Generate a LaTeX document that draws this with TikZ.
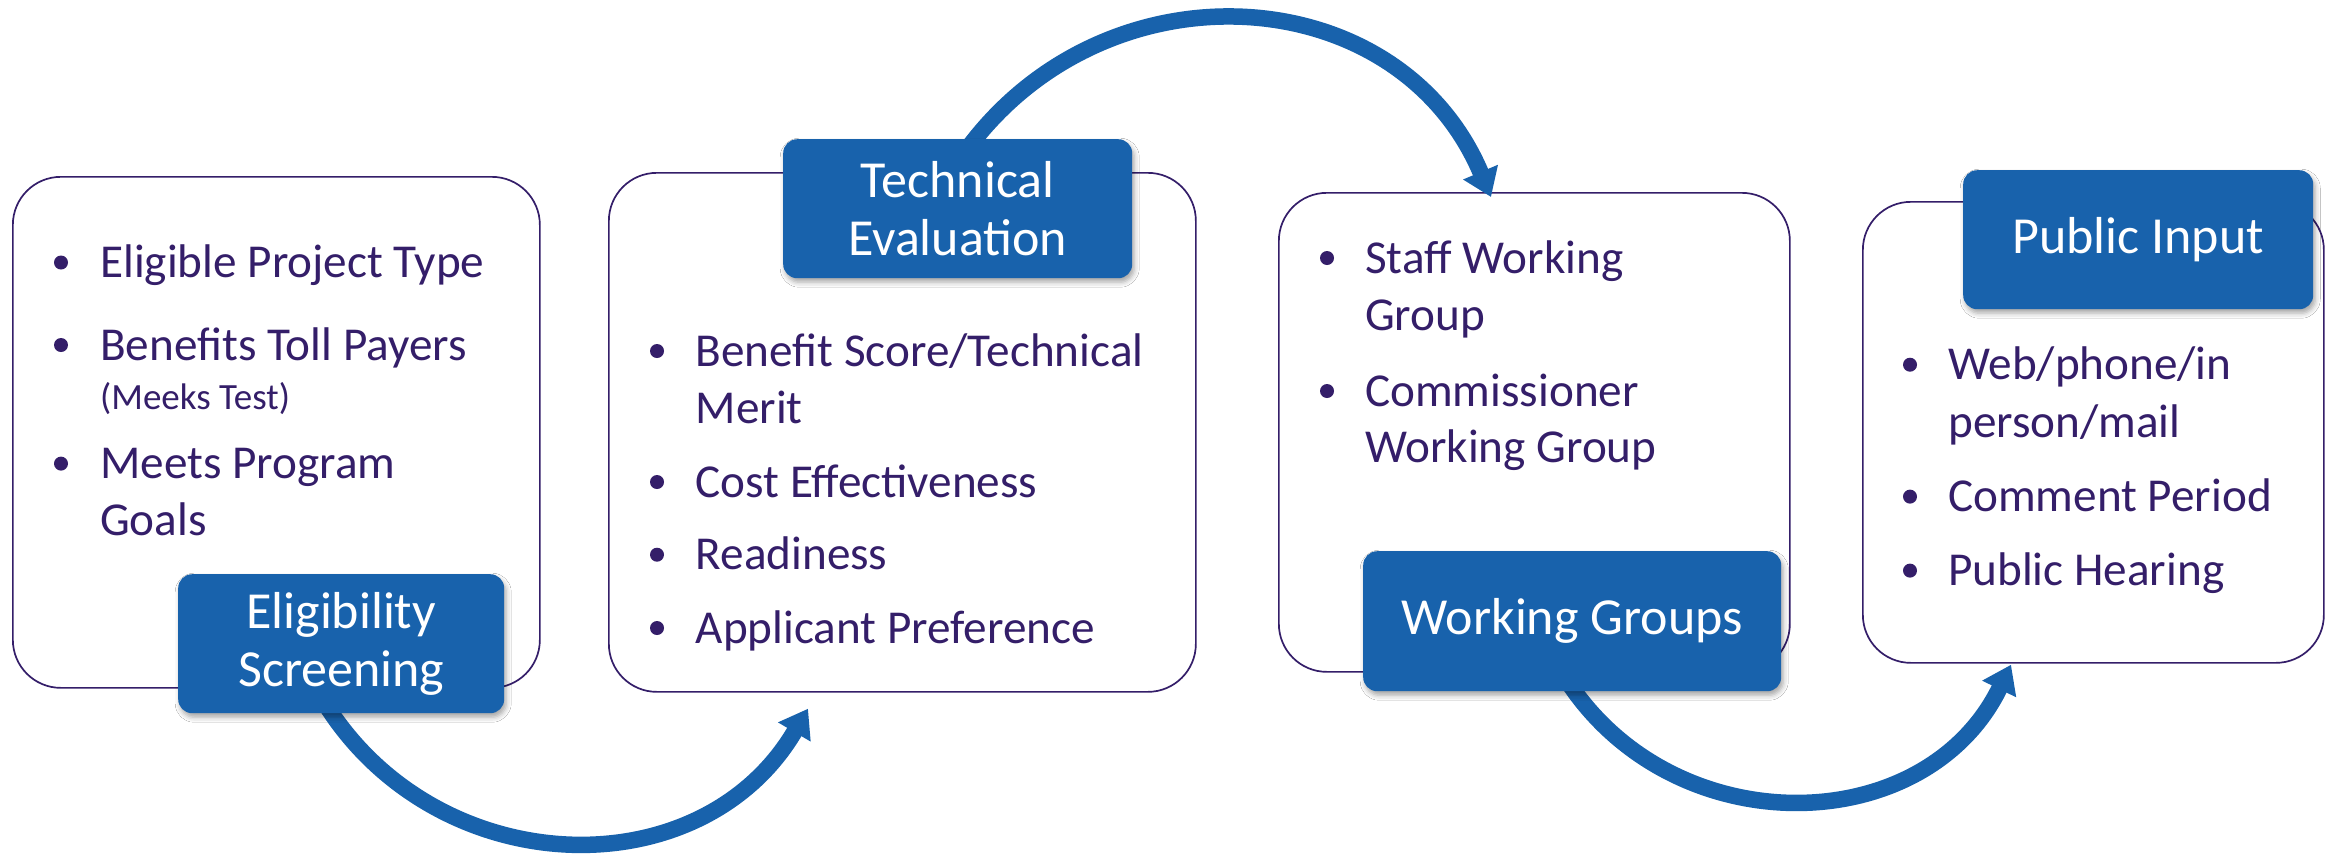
\documentclass[tikz,border=0pt]{standalone}
\usepackage{fontspec}
\setmainfont{Carlito}
\usetikzlibrary{arrows.meta,shadows.blur,calc}
\definecolor{lblblue}{RGB}{24,98,172}
\definecolor{ink}{RGB}{52,30,105}
\begin{document}
\begin{tikzpicture}[x=1pt,y=-1pt,
  panel/.style={draw=ink, line width=1.7pt, rounded corners=48pt, fill=white, anchor=north west, inner sep=0pt},
  lbl/.style={fill=lblblue, rounded corners=14pt, text=white, align=center, anchor=north west, inner sep=0pt,
    font=\fontsize{52}{58}\selectfont,
    blur shadow={shadow xshift=2pt, shadow yshift=-4pt, shadow blur radius=5pt, shadow opacity=35}},
  itm/.style={anchor=base west, inner sep=0pt, text=ink, font=\fontsize{47.2}{57.5}\selectfont},
  small/.style={itm, font=\fontsize{37}{44}\selectfont},
  bul/.style={circle, fill=ink, inner sep=0pt, minimum size=14pt},
  flow/.style={draw=lblblue, line width=16.5pt, -{Triangle[length=27pt,width=36pt]}}
]
\fill[white] (0,0) rectangle (2330,860);
\useasboundingbox (0,0) rectangle (2330,860);

% panels
\node[panel, minimum width=527pt, minimum height=511pt] (box1) at (12,176) {};
\node[panel, minimum width=587pt, minimum height=519pt] (box2) at (608,172) {};
\node[panel, minimum width=511pt, minimum height=479pt] (box3) at (1278,192) {};
\node[panel, minimum width=461pt, minimum height=461pt] (box4) at (1862,201) {};

% box 1 items
\node[bul] (b11) at (61,262.5) {};
\node[itm] (t11) at (100,277.5) {Eligible Project Type};
\node[bul] (b12) at (61,345) {};
\node[itm] (t12) at (100,360) {Benefits Toll Payers};
\node[small] (t12b) at (100,409) {(Meeks Test)};
\node[bul] (b13) at (61,463.6) {};
\node[itm] (t13) at (100,478.6) {Meets Program};
\node[itm] (t13b) at (100,535.7) {Goals};

% box 2 items
\node[bul] (b21) at (657,351) {};
\node[itm] (t21) at (695.5,366) {Benefit Score/Technical};
\node[itm] (t21b) at (695.5,423.5) {Merit};
\node[bul] (b22) at (657,482) {};
\node[itm] (t22) at (695.5,497) {Cost Effectiveness};
\node[bul] (b23) at (657,554.7) {};
\node[itm] (t23) at (695.5,569.7) {Readiness};
\node[bul] (b24) at (657,628) {};
\node[itm] (t24) at (695.5,643) {Applicant Preference};

% box 3 items
\node[bul] (b31) at (1327,258) {};
\node[itm] (t31) at (1365,273) {Staff Working};
\node[itm] (t31b) at (1365,330) {Group};
\node[bul] (b32) at (1327,391) {};
\node[itm] (t32) at (1365,406) {Commissioner};
\node[itm] (t32b) at (1365,462) {Working Group};

% box 4 items
\node[bul] (b41) at (1910,364.7) {};
\node[itm] (t41) at (1948,379.7) {Web/phone/in};
\node[itm] (t41b) at (1948,437.5) {person/mail};
\node[bul] (b42) at (1910,496.6) {};
\node[itm] (t42) at (1948,511.6) {Comment Period};
\node[bul] (b43) at (1910,570.6) {};
\node[itm] (t43) at (1948,585.6) {Public Hearing};

% label coordinates (used for arrows, labels drawn after)
\coordinate (l1) at (178,574);
\coordinate (l2) at (783,139);
\coordinate (l3) at (1363,551);

% arrows
\draw[flow] ($(l1)+(148,131)$) .. controls +(113,178) and +(-107,182) .. ($(box2.south west)+(200,16)$);
\draw[flow] ($(l2)+(185,9)$) .. controls +(141,-189) and +(-92,-218) .. ($(box3.north west)+(213,5)$);
\draw[flow] ($(l3)+(207,134)$) .. controls +(109,160) and +(-85,174) .. ($(box4.south west)+(149,1)$);

% labels
\node[lbl, minimum width=326pt, minimum height=139pt] (lab1) at (l1) {Eligibility\\Screening};
\node[lbl, minimum width=349pt, minimum height=139pt] (lab2) at (l2) {Technical\\Evaluation};
\node[lbl, minimum width=418pt, minimum height=140pt] (lab3) at (l3) {Working Groups};
\node[lbl, minimum width=350pt, minimum height=139pt] (lab4) at (1963,170) {Public Input};
\end{tikzpicture}
\end{document}
